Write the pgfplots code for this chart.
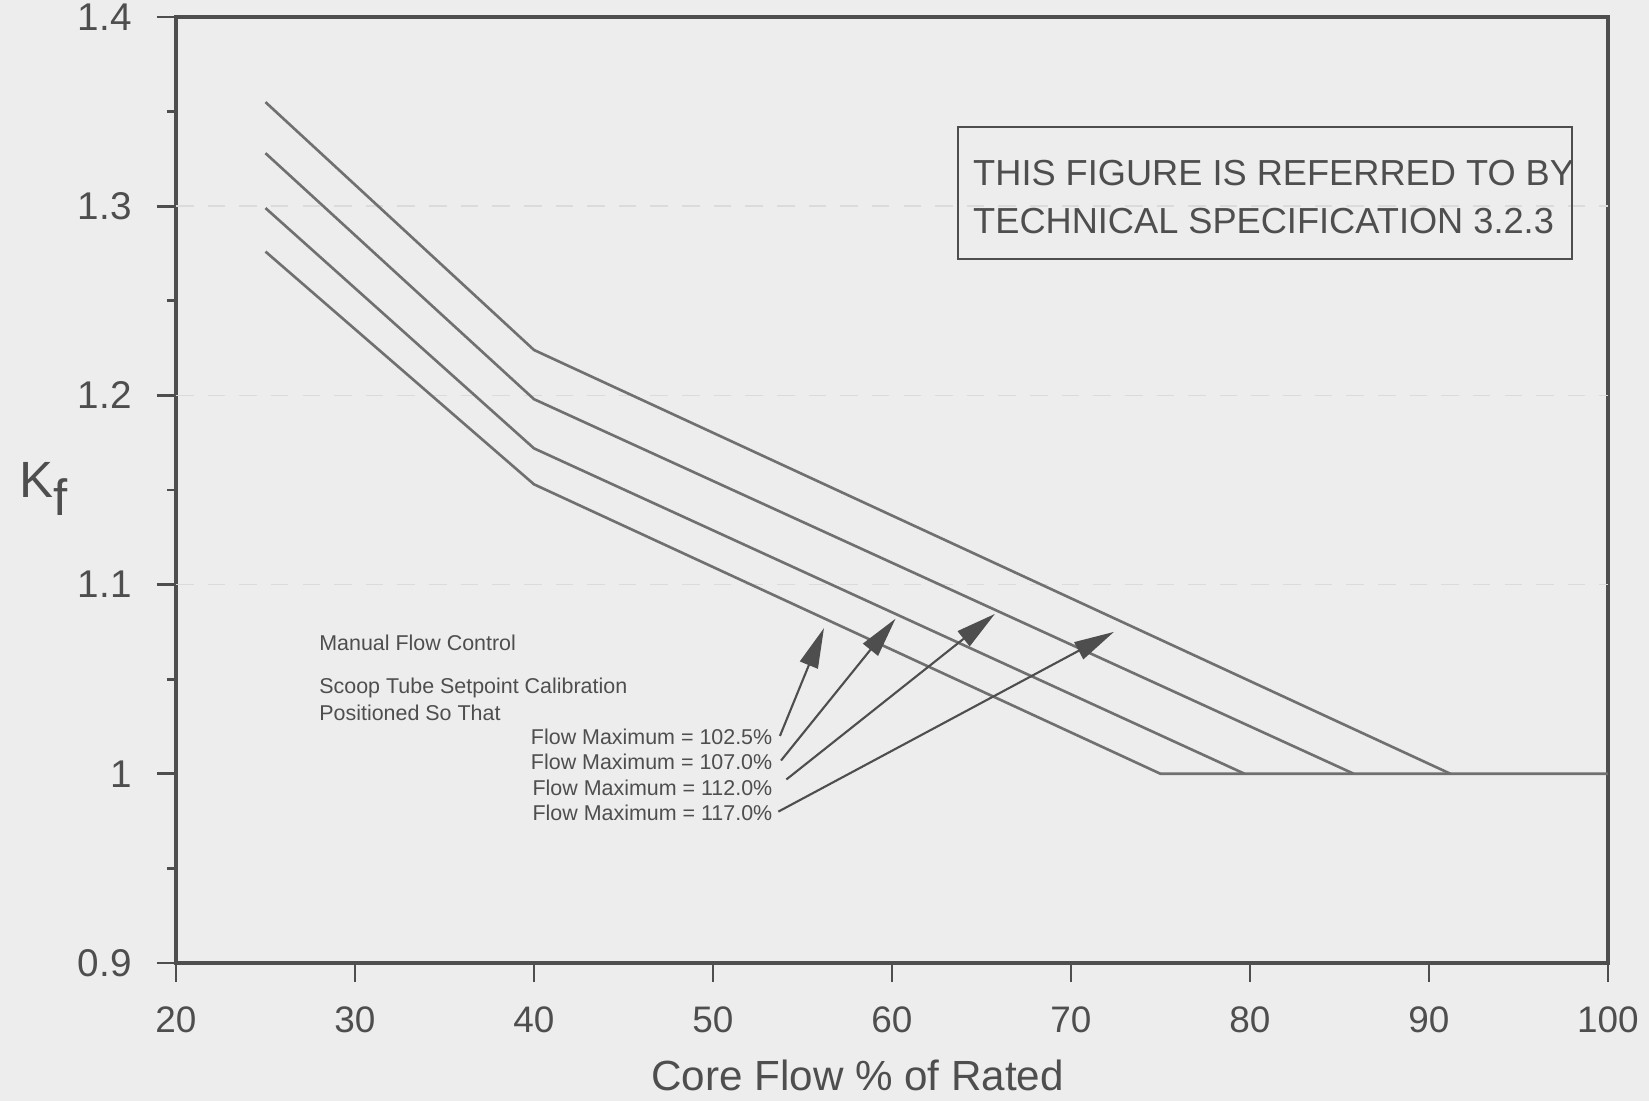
\documentclass[border=0pt]{standalone}
\usepackage{pgfplots}
\pgfplotsset{compat=1.18}
\usepackage{fontspec}
\setmainfont{Liberation Sans}
\usetikzlibrary{arrows.meta}

\definecolor{paper}{RGB}{237,237,237}
\definecolor{ink}{RGB}{78,78,78}
\definecolor{curve}{RGB}{112,112,112}

% Kf curves, one per flow maximum
\pgfplotstableread{
x    y
25   1.276
40   1.153
75   1.000
100  1.000
}\fmA
\pgfplotstableread{
x    y
25   1.299
40   1.172
79.7 1.000
}\fmB
\pgfplotstableread{
x    y
25   1.328
40   1.198
85.8 1.000
}\fmC
\pgfplotstableread{
x    y
25   1.355
40   1.224
91.2 1.000
}\fmD

\begin{document}
\begin{tikzpicture}
\fill[paper] (-1.76,-1.38) rectangle (14.73,9.63);
\begin{axis}[
    name=ax,
    at={(0,0)}, anchor=south west,
    scale only axis,
    width=14.32cm, height=9.46cm,
    xmin=20, xmax=100,
    ymin=0.9, ymax=1.4,
    xtick={20,30,...,100},
    ytick={0.9,1,1.1,1.2,1.3,1.4},
    minor y tick num=1,
    tick align=outside,
    xtick pos=bottom, ytick pos=left,
    major tick length=0.19cm,
    minor tick length=0.09cm,
    axis line style={ink, line width=0.9pt},
    tick style={ink, line width=0.8pt},
    /pgf/number format/assume math mode=true,
    xticklabel style={font=\fontsize{10.5}{12}\selectfont, text=ink, yshift=-0.12cm},
    yticklabel style={font=\fontsize{11}{12}\selectfont, text=ink, xshift=-0.13cm},
    extra y ticks={1.1,1.2,1.3},
    extra y tick labels={},
    extra y tick style={grid=major, major grid style={black!14, dash pattern=on 5pt off 4pt}},
    xlabel={Core Flow \% of Rated},
    xlabel style={font=\fontsize{12}{14}\selectfont, text=ink,
        at={(axis description cs:0.476,0)}, anchor=center, yshift=-1.12cm},
    ylabel={K\raisebox{-5.2pt}{f}},
    ylabel style={rotate=-90, font=\fontsize{14.5}{16}\selectfont, text=ink,
        at={(axis description cs:0,0.501)}, anchor=center, xshift=-1.32cm},
    clip=false,
]
\addplot[curve, line width=0.75pt] table[x=x, y=y] {\fmA};
\addplot[curve, line width=0.75pt] table[x=x, y=y] {\fmB};
\addplot[curve, line width=0.75pt] table[x=x, y=y] {\fmC};
\addplot[curve, line width=0.75pt] table[x=x, y=y] {\fmD};

% pointer arrows from the labels to the curves
\addplot[ink, line width=0.6pt, -{Triangle[length=4mm, width=1.9mm]}] coordinates {(53.74,1.020) (56.2,1.077)};
\addplot[ink, line width=0.6pt, -{Triangle[length=4mm, width=1.9mm]}] coordinates {(53.8,1.007) (60.2,1.082)};
\addplot[ink, line width=0.6pt, -{Triangle[length=4mm, width=1.9mm]}] coordinates {(54.1,0.997) (65.75,1.0845)};
\addplot[ink, line width=0.6pt, -{Triangle[length=4mm, width=1.9mm]}] coordinates {(53.65,0.980) (72.4,1.075)};

\begin{scope}[every node/.style={inner sep=0pt, text=ink, font=\fontsize{6.1}{7}\selectfont}]
\node[anchor=west] at (axis cs:27.97,1.069) {Manual Flow Control};
\node[anchor=west] at (axis cs:27.97,1.0455) {Scoop Tube Setpoint Calibration};
\node[anchor=west] at (axis cs:27.97,1.032) {Positioned So That};
\node[anchor=east] at (axis cs:53.35,1.0193) {Flow Maximum = 102.5\%};
\node[anchor=east] at (axis cs:53.35,1.0061) {Flow Maximum = 107.0\%};
\node[anchor=east] at (axis cs:53.35,0.9925) {Flow Maximum = 112.0\%};
\node[anchor=east] at (axis cs:53.35,0.9792) {Flow Maximum = 117.0\%};
\end{scope}

\draw[ink, line width=0.6pt] (axis cs:63.7,1.272) rectangle (axis cs:98.0,1.342);
\begin{scope}[every node/.style={inner sep=0pt, text=ink, font=\fontsize{10.3}{12}\selectfont, anchor=west}]
\node at (axis cs:64.5,1.3176) {THIS FIGURE IS REFERRED TO BY};
\node at (axis cs:64.5,1.2923) {TECHNICAL SPECIFICATION 3.2.3};
\end{scope}
\end{axis}
\pgfresetboundingbox
\path[use as bounding box] (-1.76,-1.38) rectangle (14.73,9.63);
\end{tikzpicture}
\end{document}
